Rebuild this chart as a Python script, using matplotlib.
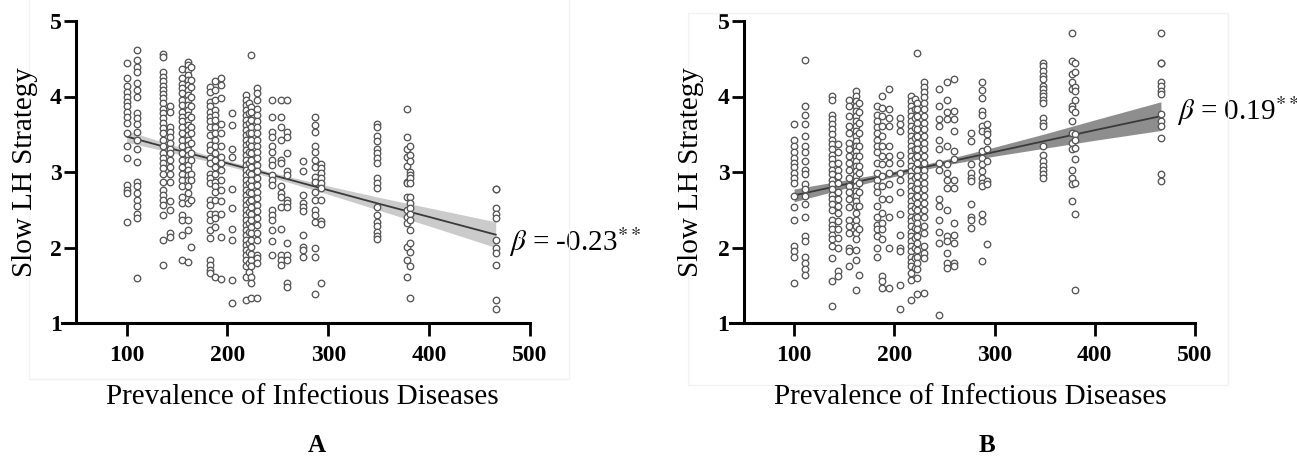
import matplotlib
matplotlib.use('Agg')
import matplotlib.pyplot as plt
from matplotlib.patches import Rectangle
import numpy as np

plt.rcParams['font.family'] = ['Liberation Serif', 'DejaVu Serif']
plt.rcParams['mathtext.fontset'] = 'stix'

# ---------------- data ----------------
prev_a = [100, 110, 136, 143, 155, 161, 164, 183, 188, 194, 205, 218, 221, 223, 229,
          244, 253, 259, 275, 287, 293, 348, 378, 381, 466]
slow_a = [
    [4.45, 4.24, 4.14, 4.06, 4.00, 3.93, 3.87, 3.80, 3.73, 3.65, 3.51, 3.34, 3.18, 2.83, 2.76, 2.72, 2.34],
    [4.61, 4.49, 4.39, 4.33, 4.18, 4.09, 4.00, 3.78, 3.71, 3.64, 3.53, 3.42, 3.30, 3.13, 2.87, 2.81, 2.72, 2.63, 2.55, 2.45, 2.39, 1.60],
    [4.56, 4.52, 4.32, 4.26, 4.20, 4.14, 4.09, 4.03, 3.98, 3.91, 3.84, 3.78, 3.71, 3.65, 3.58, 3.51, 3.43, 3.34, 3.25, 3.18, 3.12, 3.05, 2.98, 2.87, 2.76, 2.69, 2.63, 2.56, 2.43, 2.10, 1.77],
    [3.87, 3.80, 3.60, 3.53, 3.47, 3.38, 3.31, 3.25, 3.16, 3.07, 2.98, 2.87, 2.61, 2.50, 2.19, 2.14],
    [4.37, 4.24, 4.17, 4.11, 4.04, 3.95, 3.89, 3.80, 3.73, 3.67, 3.60, 3.51, 3.42, 3.34, 3.25, 3.16, 3.07, 2.98, 2.89, 2.81, 2.67, 2.59, 2.43, 2.36, 2.17, 1.84],
    [4.46, 4.42, 4.35, 4.28, 4.22, 4.15, 4.09, 4.02, 3.95, 3.89, 3.82, 3.75, 3.69, 3.62, 3.56, 3.49, 3.42, 3.36, 3.29, 3.23, 3.16, 3.09, 3.03, 2.96, 2.89, 2.81, 2.72, 2.59, 2.36, 2.23, 1.81],
    [4.39, 4.22, 4.13, 4.00, 3.87, 3.73, 3.60, 3.51, 3.38, 3.25, 3.16, 2.98, 2.89, 2.63, 2.01],
    [4.12, 4.06, 3.93, 3.87, 3.80, 3.73, 3.67, 3.60, 3.49, 3.36, 3.29, 3.18, 3.12, 2.98, 2.92, 2.85, 2.63, 2.56, 2.45, 2.36, 2.23, 2.12, 1.83, 1.77, 1.70, 1.66],
    [4.20, 4.09, 3.95, 3.82, 3.75, 3.69, 3.60, 3.51, 3.42, 3.34, 3.25, 3.16, 3.07, 2.98, 2.87, 2.81, 2.74, 2.63, 2.45, 2.39, 2.27, 1.61],
    [4.24, 4.15, 3.98, 3.64, 3.51, 3.34, 3.20, 3.12, 3.03, 2.89, 2.76, 2.61, 2.45, 2.14, 1.58],
    [3.78, 3.62, 3.31, 3.20, 2.78, 2.52, 2.25, 2.10, 1.57, 1.26],
    [4.02, 3.95, 3.89, 3.82, 3.75, 3.69, 3.62, 3.56, 3.49, 3.42, 3.36, 3.29, 3.23, 3.16, 3.09, 3.03, 2.96, 2.89, 2.83, 2.76, 2.70, 2.63, 2.56, 2.50, 2.43, 2.36, 2.30, 2.23, 2.17, 2.10, 2.03, 1.97, 1.90, 1.83, 1.75, 1.61, 1.30],
    [3.92, 3.78, 3.65, 3.52, 3.39, 3.27, 3.12, 3.00, 2.86, 2.74, 2.60, 2.47, 2.33, 2.20, 2.06, 1.94, 1.80, 1.68],
    [4.55, 3.86, 3.79, 3.69, 3.60, 3.51, 3.42, 3.34, 3.25, 3.16, 3.07, 2.98, 2.89, 2.81, 2.72, 2.63, 2.54, 2.45, 2.36, 2.27, 2.19, 2.10, 2.01, 1.92, 1.83, 1.75, 1.61, 1.53, 1.33],
    [4.11, 4.04, 3.95, 3.84, 3.75, 3.67, 3.60, 3.51, 3.42, 3.34, 3.27, 3.18, 3.09, 3.01, 2.92, 2.83, 2.74, 2.65, 2.56, 2.48, 2.39, 2.30, 2.19, 2.10, 1.90, 1.86, 1.79, 1.33],
    [3.95, 3.73, 3.53, 3.47, 3.34, 3.27, 3.16, 3.09, 2.96, 2.89, 2.83, 2.50, 2.43, 2.36, 2.23, 2.08, 1.90],
    [3.95, 3.73, 3.60, 3.42, 3.16, 3.12, 2.81, 2.72, 2.67, 2.54, 2.25, 1.90, 1.83, 1.77],
    [3.95, 3.53, 3.47, 3.25, 3.01, 2.96, 2.63, 2.59, 2.54, 2.06, 1.90, 1.83, 1.53, 1.48],
    [3.14, 3.01, 2.70, 2.59, 2.54, 2.48, 2.17, 2.01, 1.97, 1.88],
    [3.73, 3.62, 3.53, 3.34, 3.27, 3.16, 3.07, 2.94, 2.87, 2.74, 2.63, 2.50, 2.43, 2.34, 1.99, 1.88, 1.38],
    [3.10, 3.05, 2.99, 2.92, 2.85, 2.79, 2.63, 2.35, 2.31, 1.53],
    [3.64, 3.59, 3.48, 3.41, 3.31, 3.25, 3.18, 3.12, 2.92, 2.86, 2.79, 2.54, 2.43, 2.34, 2.28, 2.21, 2.15, 2.11],
    [3.83, 3.46, 3.31, 3.20, 3.08, 2.87, 2.85, 2.67, 2.50, 2.41, 2.33, 2.01, 1.83, 1.61],
    [3.34, 3.23, 3.14, 3.00, 2.96, 2.92, 2.85, 2.67, 2.59, 2.52, 2.45, 2.36, 2.23, 2.06, 1.94, 1.75, 1.33],
    [2.78, 2.77, 2.52, 2.45, 2.39, 2.10, 1.99, 1.93, 1.77, 1.31, 1.19],
]

prev_b = [100, 111, 138, 144, 155, 162, 165, 183, 188, 195, 206, 217, 221, 223, 230,
          245, 253, 260, 276, 287, 292, 348, 377, 380, 466]
slow_b = [
    [3.63, 3.43, 3.34, 3.26, 3.19, 3.12, 3.06, 2.99, 2.92, 2.86, 2.68, 2.53, 2.37, 2.02, 1.95, 1.88, 1.53],
    [4.48, 3.88, 3.76, 3.63, 3.48, 3.34, 3.26, 3.14, 3.03, 2.97, 2.84, 2.77, 2.68, 2.57, 2.41, 2.15, 2.08, 1.88, 1.80, 1.71, 1.64],
    [4.01, 3.96, 3.76, 3.70, 3.63, 3.57, 3.50, 3.43, 3.37, 3.30, 3.23, 3.17, 3.10, 3.03, 2.97, 2.90, 2.84, 2.77, 2.70, 2.64, 2.57, 2.50, 2.37, 2.30, 2.24, 2.17, 2.11, 2.02, 1.86, 1.55, 1.23],
    [3.37, 3.26, 3.12, 3.03, 2.95, 2.86, 2.73, 2.64, 2.55, 2.46, 2.35, 2.24, 2.13, 2.00, 1.69, 1.62],
    [3.96, 3.87, 3.74, 3.61, 3.52, 3.39, 3.30, 3.21, 3.12, 3.03, 2.92, 2.81, 2.73, 2.64, 2.53, 2.37, 2.28, 2.19, 2.00, 1.96, 1.75],
    [4.07, 4.01, 3.94, 3.88, 3.81, 3.74, 3.68, 3.61, 3.54, 3.48, 3.41, 3.34, 3.28, 3.21, 3.14, 3.08, 3.01, 2.95, 2.88, 2.81, 2.75, 2.68, 2.61, 2.55, 2.46, 2.37, 2.28, 2.19, 2.11, 1.97, 1.84, 1.44],
    [3.92, 3.79, 3.65, 3.52, 3.34, 3.21, 3.08, 2.99, 2.86, 2.73, 2.55, 2.24, 1.64],
    [3.88, 3.76, 3.67, 3.59, 3.52, 3.43, 3.34, 3.26, 3.12, 2.99, 2.90, 2.81, 2.73, 2.55, 2.41, 2.30, 2.24, 2.15, 2.00, 1.88],
    [4.01, 3.85, 3.74, 3.61, 3.48, 3.34, 3.21, 3.10, 2.95, 2.81, 2.64, 2.46, 2.33, 2.24, 2.11, 1.62, 1.55, 1.46],
    [4.10, 3.83, 3.72, 3.61, 3.34, 3.21, 3.12, 2.99, 2.84, 2.64, 2.41, 2.00, 1.46],
    [3.72, 3.63, 3.54, 3.23, 3.12, 2.99, 2.90, 2.73, 2.44, 2.17, 2.00, 1.96, 1.50, 1.19],
    [4.01, 3.94, 3.88, 3.81, 3.74, 3.68, 3.61, 3.54, 3.48, 3.41, 3.34, 3.28, 3.21, 3.14, 3.08, 3.01, 2.95, 2.88, 2.81, 2.75, 2.68, 2.61, 2.55, 2.48, 2.41, 2.35, 2.28, 2.21, 2.15, 2.08, 2.02, 1.95, 1.88, 1.81, 1.75, 1.66, 1.57, 1.31],
    [3.97, 3.84, 3.71, 3.58, 3.45, 3.31, 3.18, 3.05, 2.92, 2.79, 2.66, 2.52, 2.39, 2.26, 2.13, 1.99, 1.86, 1.73],
    [4.58, 3.92, 3.83, 3.74, 3.65, 3.57, 3.48, 3.39, 3.30, 3.21, 3.12, 3.03, 2.95, 2.86, 2.77, 2.68, 2.59, 2.50, 2.41, 2.32, 2.24, 2.15, 2.06, 1.97, 1.88, 1.79, 1.71, 1.60, 1.38],
    [4.19, 4.12, 4.06, 3.99, 3.92, 3.83, 3.74, 3.65, 3.57, 3.48, 3.39, 3.30, 3.21, 3.12, 3.03, 2.95, 2.86, 2.77, 2.68, 2.59, 2.50, 2.41, 2.28, 2.19, 2.02, 1.93, 1.86, 1.40],
    [4.10, 3.88, 3.70, 3.61, 3.43, 3.30, 3.12, 3.03, 2.64, 2.55, 2.37, 2.21, 2.06, 1.11],
    [4.19, 3.96, 3.79, 3.70, 3.34, 3.10, 2.99, 2.90, 2.79, 2.50, 2.15, 2.08, 1.93, 1.80, 1.73],
    [4.23, 3.81, 3.70, 3.54, 3.28, 3.17, 2.90, 2.79, 2.33, 2.17, 2.06, 1.80, 1.75],
    [3.52, 3.41, 3.10, 2.99, 2.92, 2.88, 2.57, 2.41, 2.37, 2.26],
    [4.19, 4.08, 3.98, 3.81, 3.76, 3.61, 3.54, 3.28, 3.19, 3.10, 3.01, 2.92, 2.86, 2.81, 2.45, 2.35, 1.82],
    [3.63, 3.54, 3.50, 3.41, 3.30, 3.14, 2.88, 2.84, 2.04],
    [4.45, 4.41, 4.34, 4.27, 4.23, 4.14, 4.10, 4.05, 4.01, 3.96, 3.92, 3.72, 3.65, 3.61, 3.34, 3.23, 3.14, 3.08, 3.03, 2.98, 2.92],
    [4.84, 4.47, 4.30, 4.19, 4.10, 3.88, 3.83, 3.68, 3.52, 3.39, 3.30, 3.03, 2.92, 2.84, 2.61],
    [4.44, 4.32, 4.13, 4.07, 3.95, 3.79, 3.50, 3.43, 3.32, 3.17, 2.86, 2.44, 1.44],
    [4.84, 4.45, 4.44, 4.19, 4.14, 4.07, 4.03, 3.77, 3.68, 3.61, 3.45, 2.98, 2.88],
]

# fitted regression line and 95% band
fit_x = [100, 150, 200, 250, 300, 350, 400, 466]
fit_a = [3.47, 3.29, 3.115, 2.94, 2.76, 2.58, 2.405, 2.17]
lo_a = [3.395, 3.24, 3.08, 2.905, 2.705, 2.495, 2.285, 2.00]
hi_a = [3.545, 3.34, 3.15, 2.975, 2.815, 2.665, 2.525, 2.34]
fit_b = [2.69, 2.834, 2.978, 3.122, 3.266, 3.41, 3.554, 3.74]
lo_b = [2.605, 2.78, 2.94, 3.09, 3.21, 3.315, 3.42, 3.55]
hi_b = [2.775, 2.89, 3.01, 3.16, 3.33, 3.505, 3.69, 3.93]

x_ticks = [100, 200, 300, 400, 500]
y_ticks = [1, 2, 3, 4, 5]
beta_a = r'$\it{\beta}$ = -0.23$^{**}$'
beta_b = r'$\it{\beta}$ = 0.19$^{**}$'

W, H = 1297, 457
fig = plt.figure(figsize=(W / 100, H / 100), dpi=100)

# faint panel frames from the original composite
fig.patches.append(Rectangle((29 / W, 1 - 379 / H), (569 - 29) / W, 379 / H + 0.01,
                             transform=fig.transFigure, fill=False, edgecolor='#f2f2f2', lw=1))
fig.patches.append(Rectangle((688 / W, 1 - 385 / H), (1228 - 688) / W, (385 - 13) / H,
                             transform=fig.transFigure, fill=False, edgecolor='#f2f2f2', lw=1))


def flat(xs, ys):
    fx, fy = [], []
    for x, col in zip(xs, ys):
        fx += [x] * len(col)
        fy += col
    return fx, fy


def panel(rect, xs, ys, fit, lo, hi, band_color, beta, beta_xy, ylab_px):
    ax = fig.add_axes(rect)
    ax.set_xlim(36, 500)
    ax.set_ylim(1, 5)
    ax.fill_between(fit_x, lo, hi, color=band_color, lw=0, zorder=1)
    ax.plot(fit_x, fit, color='#3a3a3a', lw=1.3, zorder=2)
    fx, fy = flat(xs, ys)
    ax.scatter(fx, fy, s=22, facecolors='white', edgecolors='#555555',
               linewidths=0.95, zorder=3, clip_on=False)
    for s in ['top', 'right']:
        ax.spines[s].set_visible(False)
    ax.spines['left'].set_position(('data', 50))
    for s in ['left', 'bottom']:
        ax.spines[s].set_linewidth(2.2)
    ax.set_xticks(x_ticks)
    ax.set_yticks(y_ticks)
    ax.tick_params(axis='x', direction='out', length=9, width=2.0, pad=7, labelsize=17)
    ax.tick_params(axis='y', direction='out', length=8.5, width=2.0, pad=2, labelsize=17)
    for lab in ax.get_xticklabels() + ax.get_yticklabels():
        lab.set_fontweight('bold')
    fig.text(ylab_px / W, 1 - 172 / H, 'Slow LH Strategy', fontsize=21, rotation=90,
             ha='center', va='center')
    ax.text(beta_xy[0], beta_xy[1], beta, fontsize=21, ha='left', va='center',
            family=['Liberation Serif'])
    return ax


axA = panel([62 / W, 1 - 323 / H, 468 / W, 302 / H], prev_a, slow_a, fit_a, lo_a, hi_a,
            '#cbcbcb', beta_a, (479, 2.07), 25)
axB = panel([730 / W, 1 - 323 / H, 465 / W, 302 / H], prev_b, slow_b, fit_b, lo_b, hi_b,
            '#8e8e8e', beta_b, (482, 3.80), 691)

fig.text(302 / W, 1 - 397 / H, 'Prevalence of Infectious Diseases', fontsize=21,
         ha='center', va='center')
fig.text(970 / W, 1 - 397 / H, 'Prevalence of Infectious Diseases', fontsize=21,
         ha='center', va='center')
fig.text(317 / W, 1 - 446 / H, 'A', fontsize=18, fontweight='bold', ha='center', va='center')
fig.text(987 / W, 1 - 446 / H, 'B', fontsize=18, fontweight='bold', ha='center', va='center')

fig.savefig('out.png', dpi=100)
